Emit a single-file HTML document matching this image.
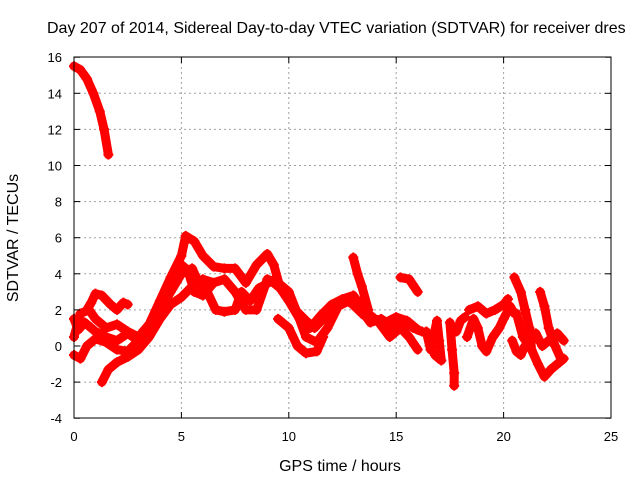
<!DOCTYPE html>
<html><head><meta charset="utf-8"><style>
body{margin:0;background:#fff;}
svg text{font-family:"Liberation Sans",sans-serif;font-size:13px;fill:#000;}
svg text.big{font-size:16px;}
</style></head><body>
<svg width="640" height="480" xmlns="http://www.w3.org/2000/svg">
<rect width="640" height="480" fill="#fff"/>
<g id="grid"></g>
<g id="marks"></g>
<rect x="74" y="57" width="537" height="361" fill="none" stroke="#000" stroke-width="1"/>
<g id="ticks"></g>
<text class="big" x="47" y="33">Day 207 of 2014, Sidereal Day-to-day VTEC variation (SDTVAR) for receiver dres</text>
<text class="big" x="340" y="471" text-anchor="middle">GPS time / hours</text>
<text class="big" transform="translate(18,238) rotate(-90)" text-anchor="middle">SDTVAR / TECUs</text>
</svg>
<script>
const xTicks=[0,5,10,15,20,25];
const yTicks=[-4,-2,0,2,4,6,8,10,12,14,16];
const trackA=[[0,15.5],[0.3,15.3],[0.6,14.8],[0.9,14.0],[1.2,13.0],[1.4,12.0],[1.6,10.6]];
const track1=[[0,0.5],[0.3,1.8],[0.7,2.0],[1.0,1.5],[1.5,1.0],[2.0,1.2],[2.5,0.8],[3.0,0.5],[3.5,1.2],[4.0,2.5],[4.5,3.8],[5.0,5.0],[5.2,6.1],[5.6,5.8],[6.0,5.0],[6.5,4.4],[7.0,4.3],[7.5,4.3],[8.0,3.5],[8.5,4.5],[9.0,5.1],[9.3,4.5],[9.6,3.2],[10.0,2.5],[10.5,1.5],[11.0,1.0],[11.5,1.7],[12.0,2.3],[12.5,2.6],[13.0,2.8],[13.5,2.0],[14.0,1.5],[14.5,1.3],[15.0,1.6],[15.5,1.4],[16.0,0.9]];
const track2=[[0,1.5],[0.2,0.9],[0.5,1.3],[1.0,0.8],[1.5,0.5],[2.0,0.3],[2.5,0.7],[3.0,0.3],[3.5,0.8],[4.0,2.0],[4.5,3.0],[5.0,4.0],[5.5,4.3],[5.8,3.5],[6.2,3.0],[6.6,2.0],[7.0,1.9],[7.5,2.0],[7.8,3.0],[8.2,2.5],[8.6,3.2],[9.2,3.6],[9.8,3.0],[10.3,2.0],[10.8,1.4],[11.2,1.0],[11.6,1.5],[12.2,2.2],[12.7,2.5],[13.3,2.1],[13.8,1.3],[14.3,1.5],[14.8,1.1],[15.4,1.3],[15.8,1.0],[16.2,0.8]];
const track3=[[0,-0.5],[0.3,-0.7],[0.6,0.0],[1.0,0.4],[1.5,0.2],[2.0,-0.2],[2.5,-0.3],[3.0,0.3],[3.5,1.0],[4.0,2.0],[4.5,3.5],[5.0,4.5],[5.3,4.2],[5.6,3.0],[6.0,2.8],[6.5,3.5],[7.0,3.7],[7.5,3.0],[8.0,2.0],[8.5,2.0],[9.0,3.7],[9.5,3.5],[10.0,3.0],[10.4,1.8],[10.8,0.5],[11.3,0.2],[11.8,1.0],[12.3,2.2],[12.8,2.5],[13.5,1.7],[14.0,1.5]];
const track4=[[1.3,-2.0],[1.6,-1.3],[2.0,-0.9],[2.5,-0.6],[3.0,-0.2],[3.5,0.5],[4.0,1.5],[4.5,2.3],[5.0,2.7],[5.5,3.3],[6.0,3.7],[6.5,3.5]];
const track5=[[0.6,2.0],[0.8,2.4],[1.0,2.9],[1.3,2.8],[1.7,2.3],[2.0,2.0],[2.3,2.4],[2.5,2.3]];
const track6=[[9.5,1.5],[10.0,1.0],[10.4,0.0],[10.8,-0.4],[11.3,-0.3],[11.6,0.5]];
const track7=[[13.0,4.9],[13.2,4.0],[13.4,3.3],[13.7,2.0]];
const track8=[[14.2,1.3],[14.7,0.5],[15.2,1.0],[15.6,0.5],[16.0,-0.2]];
const track9=[[15.2,3.8],[15.6,3.7],[16.0,3.0]];
const track10=[[16.4,0.8],[16.6,-0.2],[16.9,1.4],[17.0,0.3],[17.1,-0.8],[16.8,-0.5]];
const track11=[[17.5,1.3],[17.6,-0.2],[17.7,-1.5],[17.7,-2.2]];
const track12=[[17.8,0.8],[18.0,1.4],[18.2,1.6]];
const track13=[[18.3,0.5],[18.6,1.5],[18.8,1.0],[19.0,0.0],[19.2,-0.3],[19.5,0.5],[19.8,1.0],[20.0,1.5],[20.3,2.2],[20.5,1.8]];
const track14=[[18.4,2.0],[18.8,2.2],[19.2,1.8],[19.6,2.0],[20.0,2.3],[20.2,2.6]];
const track15=[[20.5,3.8],[20.8,3.0],[21.0,2.0],[21.2,1.0],[21.3,-0.2],[21.6,-1.0],[21.9,-1.7],[22.2,-1.3],[22.5,-1.0],[22.8,-0.7]];
const track16=[[20.6,1.8],[20.9,0.5],[21.2,0.0],[21.5,0.7],[21.8,0.0],[22.1,0.3],[22.5,0.7],[22.8,0.3]];
const track17=[[21.7,3.0],[21.9,2.2],[22.1,1.0],[22.4,0.0],[22.7,-0.8]];
const track18=[[20.4,0.3],[20.6,-0.3],[20.8,-0.5],[21.0,0.0]];
const tracks=[trackA,track1,track2,track3,track4,track5,track6,track7,track8,track9,track10,track11,track12,track13,track14,track15,track16,track17,track18];

const NS="http://www.w3.org/2000/svg";
function xs(t){return 74+t*(537/25);}
function ys(v){return 346-v*(361/20);}
const grid=document.getElementById('grid'),ticks=document.getElementById('ticks'),marks=document.getElementById('marks');
function mk(tag,attrs,parent){const e=document.createElementNS(NS,tag);for(const k in attrs)e.setAttribute(k,attrs[k]);parent.appendChild(e);return e;}
xTicks.forEach(t=>{
  const x=xs(t);
  if(t>0&&t<25){const g=mk('line',{x1:x,x2:x,y1:57,y2:418,stroke:'#a0a0a0','stroke-dasharray':'2,3'},grid);
  
  }
  mk('line',{x1:x,x2:x,y1:418,y2:412,stroke:'#000'},ticks);
  mk('line',{x1:x,x2:x,y1:57,y2:63,stroke:'#000'},ticks);
  const l=mk('text',{x:x,y:441,'text-anchor':'middle'},ticks);l.textContent=t;
  
  
});
yTicks.forEach(v=>{
  const y=ys(v);
  if(v>-4&&v<16){const g=mk('line',{x1:74,x2:611,y1:y,y2:y,stroke:'#a0a0a0','stroke-dasharray':'2,3'},grid);
  
  }
  mk('line',{x1:74,x2:80,y1:y,y2:y,stroke:'#000'},ticks);
  mk('line',{x1:611,x2:605,y1:y,y2:y,stroke:'#000'},ticks);
  const l=mk('text',{x:62,y:y+5,'text-anchor':'end'},ticks);l.textContent=v;
  
  
});
tracks.forEach((tr,i)=>{
  const g=mk('g',{},marks);
  
  
  mk('polyline',{points:tr.map(p=>xs(p[0])+','+ys(p[1])).join(' '),fill:'none',stroke:'#ff0000','stroke-width':9,'stroke-linejoin':'round','stroke-linecap':'round'},g);
  tr.forEach(p=>{
    const x=xs(p[0]),y=ys(p[1]);
    const m=mk('path',{d:`M${x-5},${y}h10M${x},${y-5}v10`,stroke:'#ff0000','stroke-width':2},g);
    
    
  });
});
</script>
</body></html>
